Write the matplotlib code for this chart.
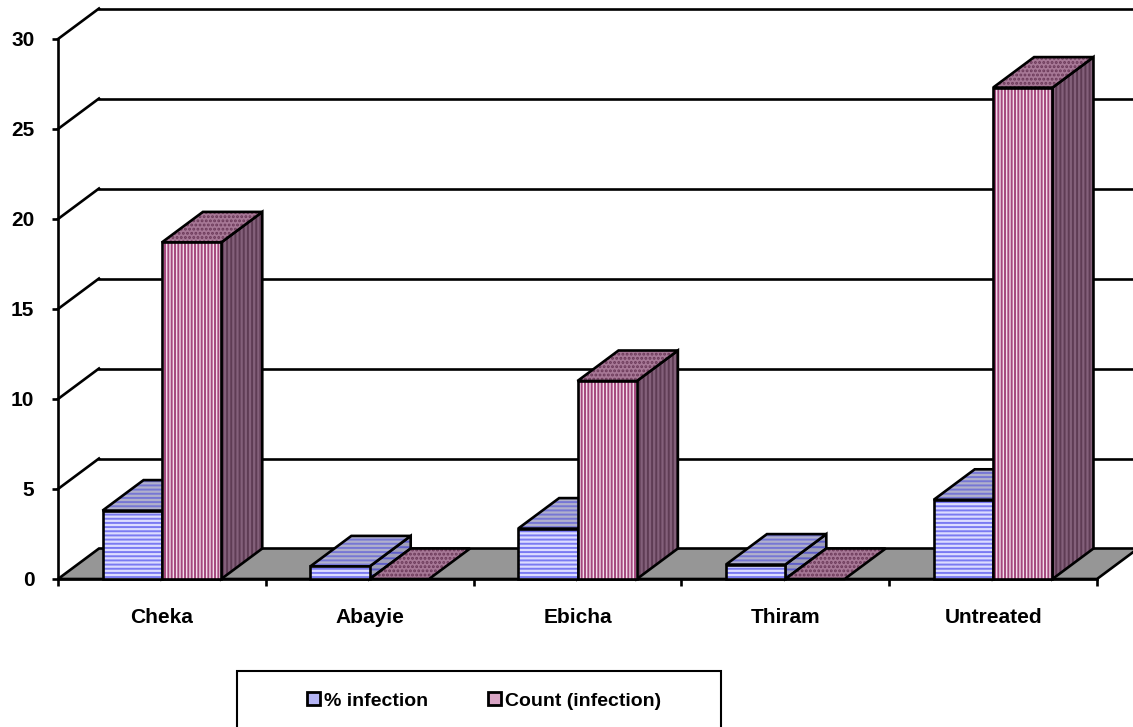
import matplotlib
matplotlib.use("Agg")
import matplotlib.pyplot as plt
from matplotlib.patches import Polygon, Rectangle, Patch

categories = ["Cheka", "Abayie", "Ebicha", "Thiram", "Untreated"]
pct_infection = [3.8, 0.7, 2.8, 0.8, 4.4]
count_infection = [18.7, 0.0, 11.0, 0.0, 27.3]
series_names = ["% infection", "Count (infection)"]
y_ticks = [0, 5, 10, 15, 20, 25, 30]

plt.rcParams["font.family"] = ["Liberation Sans", "DejaVu Sans"]
plt.rcParams["font.weight"] = "bold"
plt.rcParams["hatch.linewidth"] = 1.4

W, H = 1133, 727
fig = plt.figure(figsize=(W / 100, H / 100), dpi=100)
ax = fig.add_axes([58 / W, (H - 579) / H, 1039 / W, 540 / H])
n = len(categories)
ax.set_xlim(0, n)
ax.set_ylim(0, 30)
ax.patch.set_visible(False)

# oblique offset of the box depth, in data units
DX = 41 / 1039 * n
DY = 30.5 / 18
LW = 1.9

# (facecolor, stripe colour, hatch) for front / top / side faces
styles = [
    dict(front=("#dcdcff", "#7a7af2", "----"),
         top=("#b0b0cc", "#7676d4", "----"),
         side=("#9e9eb8", "#5f5fc8", "---")),
    dict(front=("#f2dcea", "#a4477e", "|||||"),
         top=("#a77896", "#6a3858", "...."),
         side=("#83607a", "#5e3c54", "||||")),
]

zorder = [3]


def face(pts, style):
    fc, hc, hatch = style
    z = zorder[0]
    ax.add_patch(Polygon(pts, closed=True, facecolor=fc, edgecolor=hc,
                         hatch=hatch, lw=0, zorder=z, clip_on=False))
    ax.add_patch(Polygon(pts, closed=True, fill=False, edgecolor="black",
                         lw=LW, zorder=z + 0.5, clip_on=False, joinstyle="miter"))
    zorder[0] += 1


def bar3d(x0, x1, v, style):
    if v > 0:
        face([(x1, 0), (x1 + DX, DY), (x1 + DX, v + DY), (x1, v)], style["side"])
    face([(x0, v), (x1, v), (x1 + DX, v + DY), (x0 + DX, v + DY)], style["top"])
    if v > 0:
        face([(x0, 0), (x1, 0), (x1, v), (x0, v)], style["front"])


# back wall gridlines and the left-wall diagonals
for y in y_ticks[1:]:
    ax.plot([DX, n + DX], [y + DY, y + DY], color="black", lw=LW, clip_on=False, zorder=1)
    ax.plot([0, DX], [y, y + DY], color="black", lw=LW, clip_on=False, zorder=1)

# floor
ax.add_patch(Polygon([(0, 0), (n, 0), (n + DX, DY), (DX, DY)], closed=True,
                     facecolor="#969696", edgecolor="black", lw=LW,
                     clip_on=False, zorder=2))

# clustered columns, gap width 150%
w = 1 / 3.5
for i in range(n):
    c = i + 0.5
    bar3d(c - w, c, pct_infection[i], styles[0])
    bar3d(c, c + w, count_infection[i], styles[1])

# axes
for side in ["top", "right"]:
    ax.spines[side].set_visible(False)
for side in ["left", "bottom"]:
    ax.spines[side].set_linewidth(LW)
    ax.spines[side].set_zorder(2.5)
ax.set_yticks(y_ticks)
ax.tick_params(axis="y", direction="out", length=4, width=LW, pad=13, labelsize=15)
ax.set_xticks(range(n + 1))
ax.set_xticklabels([])
ax.set_xticks([i + 0.5 for i in range(n)], minor=True)
ax.set_xticklabels(categories, minor=True)
ax.tick_params(axis="x", which="major", direction="out", length=5, width=LW)
ax.tick_params(axis="x", which="minor", length=0, pad=21, labelsize=15)

# legend box runs off the bottom edge
fig.patches.append(Rectangle((237 / W, -0.05), (721 - 237) / W, (H - 671) / H + 0.05,
                             transform=fig.transFigure, fill=False,
                             edgecolor="black", lw=1.5))
handles = [Patch(facecolor="#b4b4f4", edgecolor="black", lw=2),
           Patch(facecolor="#d8a4c4", edgecolor="black", lw=2)]
fig.legend(handles, series_names, loc="center", bbox_to_anchor=(484 / W, 1 - 701 / H),
           ncol=2, frameon=False, fontsize=14, handlelength=0.65, handleheight=0.65,
           handletextpad=0.2, columnspacing=3.1)

fig.savefig("out.png", dpi=100)
